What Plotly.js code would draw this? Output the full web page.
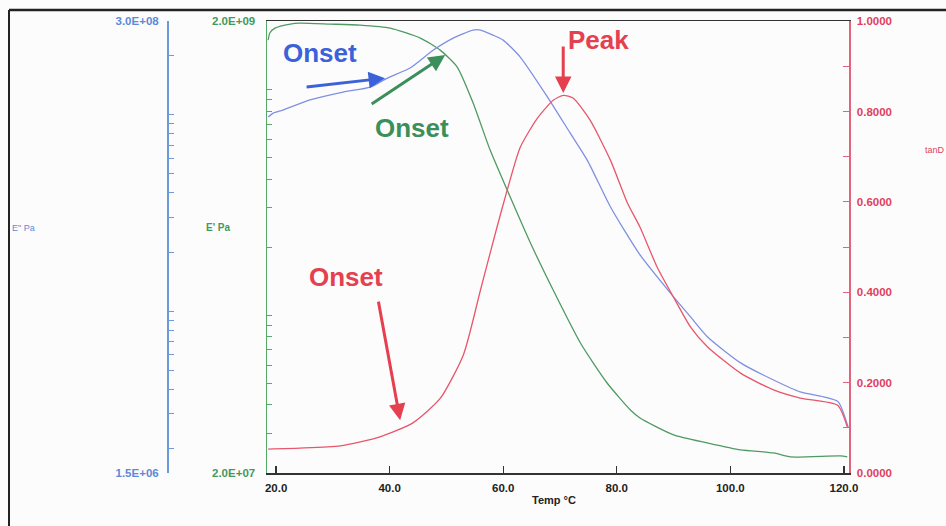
<!DOCTYPE html>
<html>
<head>
<meta charset="utf-8">
<script src="https://cdn.plot.ly/plotly-3.0.1.min.js"></script>
<style>html,body{margin:0;padding:0;background:#fdfcfc;}#chart{width:946px;height:526px;}</style>
</head>
<body>
<div id="chart"></div>
<script>
// E'' (loss modulus, Pa) - blue, log axis
const tempLoss = [18.6, 19.5, 21.2, 26.0, 31.8, 36.6, 39.6, 43.6, 47.7, 51.2, 54.7, 56.0, 58.2, 60.0, 63.0, 67.8, 71.8, 74.8, 78.9, 84.1, 90.0, 93.0, 96.0, 101.8, 107.6, 112.3, 116.4, 119.0, 120.8];
const lossModulus = [9.74e7, 1.02e8, 1.057e8, 1.19e8, 1.305e8, 1.384e8, 1.538e8, 1.73e8, 2.136e8, 2.458e8, 2.70e8, 2.70e8, 2.546e8, 2.40e8, 1.968e8, 1.231e8, 8.07e7, 5.88e7, 3.39e7, 1.932e7, 1.181e7, 9.34e6, 7.39e6, 5.45e6, 4.46e6, 3.88e6, 3.66e6, 3.45e6, 2.54e6];

// E' (storage modulus, Pa) - green, log axis
const tempStorage = [18.6, 18.9, 19.8, 22.5, 24.2, 29.5, 34.8, 40.1, 45.4, 48.9, 51.9, 54.7, 57.7, 60.7, 64.8, 68.8, 73.6, 78.3, 82.4, 84.1, 90.0, 95.9, 101.8, 107.6, 110.6, 119.4, 120.6];
const storageModulus = [1.648e9, 1.771e9, 1.862e9, 1.941e9, 1.959e9, 1.941e9, 1.92e9, 1.862e9, 1.682e9, 1.488e9, 1.252e9, 8.68e8, 5.37e8, 3.575e8, 2.083e8, 1.29e8, 7.52e7, 5.0e7, 3.8e7, 3.5e7, 2.946e7, 2.715e7, 2.527e7, 2.452e7, 2.354e7, 2.378e7, 2.354e7];

// tan delta - red, linear axis
const tempTan = [18.6, 24.2, 31.3, 38.3, 44.1, 48.9, 53.0, 56.0, 58.9, 60.7, 63.0, 66.0, 68.8, 70.6, 72.3, 75.3, 78.9, 81.9, 84.1, 87.1, 90.0, 93.0, 96.0, 101.8, 107.6, 112.3, 118.9, 120.6];
const tanDelta = [0.053, 0.055, 0.060, 0.080, 0.111, 0.165, 0.262, 0.405, 0.544, 0.626, 0.721, 0.785, 0.825, 0.836, 0.830, 0.781, 0.692, 0.597, 0.544, 0.456, 0.389, 0.323, 0.279, 0.221, 0.184, 0.166, 0.150, 0.102];

// tick values and labels
const xTickVals = [20, 40, 60, 80, 100, 120];
const xTickText = ["20.0", "40.0", "60.0", "80.0", "100.0", "120.0"];

const lossTickVals = [1.5e6, 2e6, 3e6, 4e6, 5e6, 6e6, 7e6, 8e6, 9e6, 1e7, 2e7, 3e7, 4e7, 5e7, 6e7, 7e7, 8e7, 9e7, 1e8, 2e8, 3e8];
const lossTickText = ["1.5E+06", "", "", "", "", "", "", "", "", "", "", "", "", "", "", "", "", "", "", "", "3.0E+08"];

const storageTickVals = [2e7, 3e7, 4e7, 5e7, 6e7, 7e7, 8e7, 9e7, 1e8, 2e8, 3e8, 4e8, 5e8, 6e8, 7e8, 8e8, 9e8, 1e9, 2e9];
const storageTickText = ["2.0E+07", "", "", "", "", "", "", "", "", "", "", "", "", "", "", "", "", "", "2.0E+09"];

const tanTickVals = [0, 0.1, 0.2, 0.3, 0.4, 0.5, 0.6, 0.7, 0.8, 0.9, 1.0];
const tanTickText = ["0.0000", "", "0.2000", "", "0.4000", "", "0.6000", "", "0.8000", "", "1.0000"];

const FONT = "Arial, 'Liberation Sans', sans-serif";
const BLUE_LINE = "#7f90e2", GREEN_LINE = "#4f9a62", RED_LINE = "#e8566c";
const BLUE_AX = "#6c9ad8", GREEN_AX = "#55a868", RED_AX = "#e2647c";

const lineStyle = c => ({color: c, width: 1.3, shape: "spline", smoothing: 0.6});
const traces = [
  {x: tempStorage, y: storageModulus, yaxis: "y", type: "scatter", mode: "lines", line: lineStyle(GREEN_LINE)},
  {x: tempLoss, y: lossModulus, yaxis: "y2", type: "scatter", mode: "lines", line: lineStyle(BLUE_LINE)},
  {x: tempTan, y: tanDelta, yaxis: "y3", type: "scatter", mode: "lines", line: lineStyle(RED_LINE)}
];

const W = 946, H = 526;
const px = v => v / W, py = v => 1 - v / H;
const tickFont = c => ({family: FONT, size: 11.5, color: c, weight: "bold"});

const layout = {
  width: W, height: H,
  margin: {l: 0, r: 0, t: 0, b: 0},
  paper_bgcolor: "#fdfcfc", plot_bgcolor: "rgba(0,0,0,0)",
  showlegend: false,
  xaxis: {
    domain: [px(267), px(849)], range: [18.4, 120.9],
    tickmode: "array", tickvals: xTickVals, ticktext: xTickText,
    ticks: "inside", ticklen: 7, tickcolor: "#333", tickwidth: 1.3,
    showline: true, linecolor: "#333", linewidth: 1.5, mirror: true,
    showgrid: false, zeroline: false,
    tickfont: tickFont("#222"), ticklabelstandoff: 4
  },
  yaxis: {
    domain: [py(473), py(21)], type: "log",
    range: [Math.log10(2e7) - 0.0005, Math.log10(2e9) + 0.0005],
    tickmode: "array", tickvals: storageTickVals, ticktext: storageTickText,
    ticks: "inside", ticklen: 5, tickcolor: GREEN_AX, tickwidth: 1,
    showline: true, linecolor: GREEN_AX, linewidth: 1.5,
    showgrid: false, zeroline: false, side: "left", anchor: "x",
    tickfont: tickFont("#3f9a5c"), ticklabelstandoff: 8
  },
  yaxis2: {
    overlaying: "y", type: "log", anchor: "free", position: px(167), side: "left",
    range: [Math.log10(1.5e6) - 0.0005, Math.log10(3e8) + 0.0005],
    tickmode: "array", tickvals: lossTickVals, ticktext: lossTickText,
    ticks: "inside", ticklen: 5, tickcolor: BLUE_AX, tickwidth: 1,
    showline: true, linecolor: BLUE_AX, linewidth: 1.5,
    showgrid: false, zeroline: false,
    tickfont: tickFont("#5b8ad8"), ticklabelstandoff: 6
  },
  yaxis3: {
    overlaying: "y", anchor: "x", side: "right", range: [0, 1.0005],
    tickmode: "array", tickvals: tanTickVals, ticktext: tanTickText,
    ticks: "inside", ticklen: 6, tickcolor: RED_AX, tickwidth: 1,
    showline: true, linecolor: RED_AX, linewidth: 1.5,
    showgrid: false, zeroline: false,
    tickfont: tickFont("#e0405e"), ticklabelstandoff: 4
  },
  shapes: [
    {type: "line", xref: "paper", yref: "paper", x0: px(9), x1: 1.05, y0: py(10), y1: py(10), line: {color: "#222", width: 2.5}},
    {type: "line", xref: "paper", yref: "paper", x0: px(9), x1: px(9), y0: py(10), y1: -0.05, line: {color: "#222", width: 2}}
  ],
  annotations: [
    // axis titles
    {xref: "paper", yref: "paper", x: px(10), y: py(228), xanchor: "left", yanchor: "middle", showarrow: false,
     text: "E\" Pa", font: {family: FONT, size: 9, color: "#5b8ad8"}},
    {xref: "paper", yref: "paper", x: px(204), y: py(228), xanchor: "left", yanchor: "middle", showarrow: false,
     text: "E' Pa", font: {family: FONT, size: 10, color: "#3f9a5c", weight: "bold"}},
    {xref: "paper", yref: "paper", x: px(923), y: py(150), xanchor: "left", yanchor: "middle", showarrow: false,
     text: "tanD", font: {family: FONT, size: 9, color: "#e0405e"}},
    {xref: "paper", yref: "paper", x: px(554), y: py(500), xanchor: "center", yanchor: "middle", showarrow: false,
     text: "Temp °C", font: {family: FONT, size: 11, color: "#222", weight: "bold"}},
    // labels
    {xref: "x", yref: "y3", x: 27.75, y: 0.929, showarrow: false, text: "Onset",
     font: {family: FONT, size: 26, color: "#3b62d8", weight: "bold"}},
    {xref: "x", yref: "y3", x: 43.96, y: 0.763, showarrow: false, text: "Onset",
     font: {family: FONT, size: 26, color: "#3a8f5a", weight: "bold"}},
    {xref: "x", yref: "y3", x: 76.74, y: 0.958, showarrow: false, text: "Peak",
     font: {family: FONT, size: 26, color: "#e5404f", weight: "bold"}},
    {xref: "x", yref: "y3", x: 32.33, y: 0.434, showarrow: false, text: "Onset",
     font: {family: FONT, size: 26, color: "#e5404f", weight: "bold"}},
    // arrows
    {xref: "x", yref: "y3", x: 39.2, y: 0.874, ax: -80, ay: 9, text: "", showarrow: true,
     arrowhead: 2, arrowsize: 1.1, arrowwidth: 3, arrowcolor: "#3b62d8"},
    {xref: "x", yref: "y3", x: 49.78, y: 0.925, ax: -75, ay: 50, text: "", showarrow: true,
     arrowhead: 2, arrowsize: 1.1, arrowwidth: 3, arrowcolor: "#3a8f5a"},
    {xref: "x", yref: "y3", x: 70.57, y: 0.841, ax: 0, ay: -48, text: "", showarrow: true,
     arrowhead: 2, arrowsize: 1.1, arrowwidth: 3, arrowcolor: "#e5404f"},
    {xref: "x", yref: "y3", x: 41.85, y: 0.117, ax: -22, ay: -120, text: "", showarrow: true,
     arrowhead: 2, arrowsize: 1.1, arrowwidth: 3, arrowcolor: "#e5404f"}
  ]
};

Plotly.newPlot("chart", traces, layout, {staticPlot: true, displayModeBar: false});
</script>
</body>
</html>
